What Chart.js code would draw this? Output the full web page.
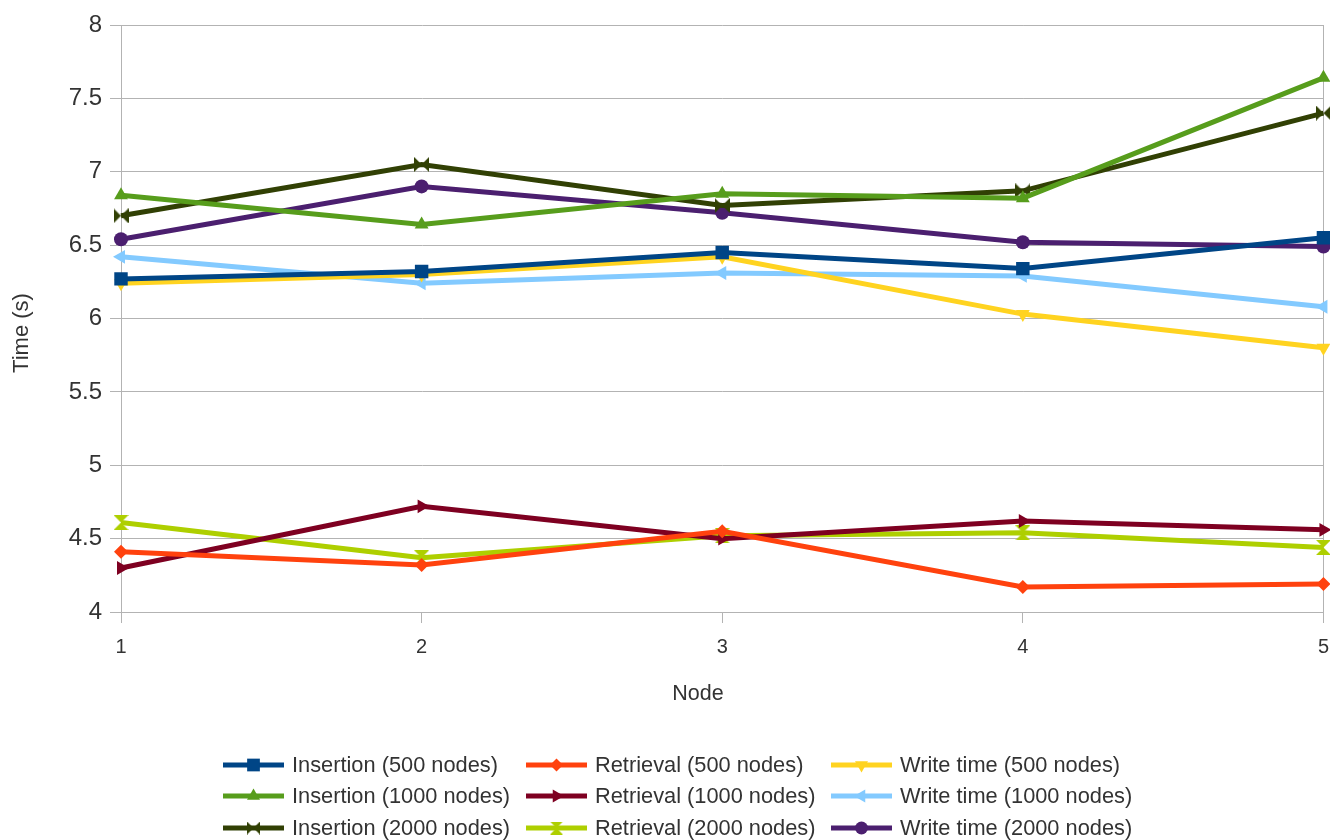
<!DOCTYPE html>
<html>
<head>
<meta charset="utf-8">
<style>
  html, body { margin: 0; padding: 0; background: #ffffff; overflow: hidden; }
  #wrap { width: 1330px; height: 840px; position: relative; overflow: hidden; }
  #chart { position: absolute; left: 0; top: 0; }
</style>
<script src="https://cdn.jsdelivr.net/npm/chart.js@4.4.1/dist/chart.umd.min.js"></script>
</head>
<body>
<div id="wrap"><canvas id="chart" width="1341" height="840"></canvas></div>
<script>
// Node numbers along the x axis
const nodes = ['1', '2', '3', '4', '5'];

// Timings in seconds per node
const insertion500  = [6.27, 6.32, 6.45, 6.34, 6.55];
const retrieval500  = [4.41, 4.32, 4.55, 4.17, 4.19];
const write500      = [6.24, 6.30, 6.42, 6.03, 5.80];
const insertion1000 = [6.84, 6.64, 6.85, 6.82, 7.64];
const retrieval1000 = [4.30, 4.72, 4.50, 4.62, 4.56];
const write1000     = [6.42, 6.24, 6.31, 6.29, 6.08];
const insertion2000 = [6.70, 7.05, 6.77, 6.87, 7.40];
const retrieval2000 = [4.61, 4.37, 4.52, 4.54, 4.44];
const write2000     = [6.54, 6.90, 6.72, 6.52, 6.49];

const seriesNames = [
  'Insertion (500 nodes)', 'Retrieval (500 nodes)', 'Write time (500 nodes)',
  'Insertion (1000 nodes)', 'Retrieval (1000 nodes)', 'Write time (1000 nodes)',
  'Insertion (2000 nodes)', 'Retrieval (2000 nodes)', 'Write time (2000 nodes)'
];

const yTicks = [4, 4.5, 5, 5.5, 6, 6.5, 7, 7.5, 8];
const xTitle = 'Node';
const yTitle = 'Time (s)';

const palette = ['#004586', '#ff420e', '#ffd320', '#579d1c', '#7e0021', '#83caff', '#314004', '#aecf00', '#4b1f6f'];

// Small canvas markers for the two "double triangle" symbols
function doubleTriangle(color, vertical, s) {
  const c = document.createElement('canvas');
  c.width = s; c.height = s;
  const g = c.getContext('2d');
  g.fillStyle = color;
  g.beginPath();
  if (vertical) {
    g.moveTo(0, 0); g.lineTo(s, 0); g.lineTo(s / 2, s / 2); g.closePath();
    g.moveTo(0, s); g.lineTo(s, s); g.lineTo(s / 2, s / 2); g.closePath();
  } else {
    g.moveTo(0, 0); g.lineTo(0, s); g.lineTo(s / 2, s / 2); g.closePath();
    g.moveTo(s, 0); g.lineTo(s, s); g.lineTo(s / 2, s / 2); g.closePath();
  }
  g.fill();
  return c;
}

const seriesData = [insertion500, retrieval500, write500, insertion1000, retrieval1000, write1000, insertion2000, retrieval2000, write2000];
const markers = [
  { style: 'rect', rot: 0, r: 9.5 },
  { style: 'rectRot', rot: 0, r: 7 },
  { style: 'triangle', rot: 180, r: 8 },
  { style: 'triangle', rot: 0, r: 8 },
  { style: 'triangle', rot: 90, r: 8 },
  { style: 'triangle', rot: -90, r: 8 },
  { style: doubleTriangle(palette[6], false, 15), rot: 0, r: 8 },
  { style: doubleTriangle(palette[7], true, 15), rot: 0, r: 8 },
  { style: 'circle', rot: 0, r: 7 }
];
// Legend symbols
const legendMarkers = [
  { style: 'rect', r: 9 },
  { style: 'rectRot', r: 6.5 },
  { style: 'triangle', r: 7.5 },
  { style: 'triangle', r: 7.5 },
  { style: 'triangle', r: 7.5 },
  { style: 'triangle', r: 7.5 },
  { style: doubleTriangle(palette[6], false, 13), r: 7 },
  { style: doubleTriangle(palette[7], true, 13), r: 7 },
  { style: 'circle', r: 6.5 }
];

const datasets = seriesData.map((d, i) => ({
  label: seriesNames[i],
  data: d,
  borderColor: palette[i],
  backgroundColor: palette[i],
  borderWidth: 5,
  pointStyle: markers[i].style,
  pointRotation: markers[i].rot,
  pointRadius: markers[i].r,
  pointBorderWidth: 0,
  pointBackgroundColor: palette[i],
  pointBorderColor: palette[i],
  tension: 0,
  fill: false
}));

const textColor = '#333333';
const fontFamily = '"Liberation Sans", Arial, sans-serif';

// Axis titles and the three-column legend below the plot
const annotations = {
  id: 'annotations',
  afterDraw(chart) {
    const ctx = chart.ctx;
    ctx.save();
    ctx.fillStyle = textColor;
    ctx.textAlign = 'center';
    ctx.textBaseline = 'middle';
    ctx.font = '21.5px ' + fontFamily;
    ctx.fillText(xTitle, 698, 694);
    ctx.save();
    ctx.translate(22, 333);
    ctx.rotate(-Math.PI / 2);
    ctx.font = '22px ' + fontFamily;
    ctx.fillText(yTitle, 0, 0);
    ctx.restore();

    const colX = [223, 526, 831];
    const rowY = [765, 796, 828];
    const swatch = 61;
    ctx.font = '21.8px ' + fontFamily;
    ctx.textAlign = 'left';
    chart.data.datasets.forEach((ds, i) => {
      const x = colX[i % 3];
      const y = rowY[Math.floor(i / 3)];
      ctx.strokeStyle = ds.borderColor;
      ctx.lineWidth = 5;
      ctx.beginPath();
      ctx.moveTo(x, y);
      ctx.lineTo(x + swatch, y);
      ctx.stroke();
      ctx.fillStyle = ds.backgroundColor;
      Chart.helpers.drawPoint(ctx, {
        pointStyle: legendMarkers[i].style,
        rotation: ds.pointRotation,
        radius: legendMarkers[i].r,
        borderWidth: 0
      }, x + swatch / 2, y);
      ctx.fillStyle = textColor;
      ctx.fillText(ds.label, x + swatch + 8, y + 1);
    });
    ctx.restore();
  }
};

const gridColor = '#b3b3b3';
const noLine = 'rgba(0,0,0,0)';

new Chart(document.getElementById('chart'), {
  type: 'line',
  data: { labels: nodes, datasets: datasets },
  options: {
    responsive: false,
    animation: false,
    devicePixelRatio: 1,
    layout: { padding: { top: 25, right: 0, bottom: 128, left: 0 } },
    plugins: {
      legend: { display: false },
      tooltip: { enabled: false }
    },
    scales: {
      x: {
        type: 'category',
        offset: false,
        grid: {
          // only the outer verticals run through the plot; inner ones are tick marks
          color: (c) => (c.index === 0 || c.index === nodes.length - 1) ? gridColor : noLine,
          tickColor: gridColor,
          lineWidth: 1,
          tickLength: 11,
          offset: false
        },
        border: { color: gridColor, width: 1 },
        ticks: {
          color: textColor,
          padding: 12,
          maxRotation: 0,
          font: { family: fontFamily, size: 20 }
        },
        afterFit(scale) { scale.height = 100; }
      },
      y: {
        type: 'linear',
        min: yTicks[0],
        max: yTicks[yTicks.length - 1],
        afterBuildTicks(scale) { scale.ticks = yTicks.map(v => ({ value: v })); },
        grid: { color: gridColor, lineWidth: 1, tickLength: 11 },
        border: { color: gridColor, width: 1 },
        ticks: {
          color: textColor,
          padding: 8,
          callback: (v) => String(v),
          font: { family: fontFamily, size: 24 }
        },
        afterFit(scale) { scale.width = 121; }
      }
    }
  },
  plugins: [annotations]
});
</script>
</body>
</html>
